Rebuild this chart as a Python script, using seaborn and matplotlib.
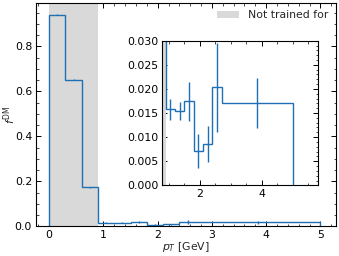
import numpy as np
import pandas as pd
import seaborn as sns
import matplotlib.pyplot as plt
from matplotlib.ticker import AutoMinorLocator

# bin edges in pT [GeV] and fraction per bin
edges = [0.0, 0.3, 0.6, 0.9, 1.2, 1.5, 1.8, 2.1, 2.4, 2.7, 5.0]
f_dm = [0.942, 0.652, 0.173, 0.0158, 0.0154, 0.0174, 0.0071, 0.0086, 0.0203, 0.0171]
f_err = [0.003, 0.003, 0.002, 0.0022, 0.0019, 0.0040, 0.0035, 0.0038, 0.0092, 0.0052]
untrained = (0.0, 0.9)

centers = [(a + b) / 2 for a, b in zip(edges[:-1], edges[1:])]
df = pd.DataFrame({"pt": centers, "f": f_dm, "err": f_err})

sns.set_theme(style="ticks")
plt.rcParams.update({
    "font.family": ["DejaVu Sans"],
    "font.size": 7.8,
    "xtick.direction": "in", "ytick.direction": "in",
    "xtick.top": True, "ytick.right": True,
    "xtick.minor.visible": True, "ytick.minor.visible": True,
    "xtick.labelsize": 7.8, "ytick.labelsize": 7.8,
    "xtick.major.size": 3.5, "ytick.major.size": 3.5,
    "xtick.minor.size": 1.8, "ytick.minor.size": 1.8,
    "xtick.major.width": 0.7, "ytick.major.width": 0.7,
    "xtick.minor.width": 0.5, "ytick.minor.width": 0.5,
    "xtick.major.pad": 2.5, "ytick.major.pad": 2.5,
    "axes.linewidth": 0.8,
    "axes.edgecolor": "black",
    "xtick.color": "black", "ytick.color": "black",
})
col = "#1f6fb4"

fig = plt.figure(figsize=(3.39, 2.56), dpi=100)
ax = fig.add_axes([0.105, 0.116, 0.885, 0.873])


def draw(a):
    a.axvspan(*untrained, color="#d9d9d9", lw=0, label="Not trained for")
    a.stairs(df["f"], edges, baseline=0, color=col, lw=1.0)
    a.errorbar(df["pt"], df["f"], yerr=df["err"], fmt="none", ecolor=col, elinewidth=1.0)


draw(ax)
ax.set_xlim(-0.25, 5.28)
ax.set_ylim(0, 0.994)
ax.set_xlabel(r"$p_T$ [GeV]", fontsize=7.8, labelpad=0)
ax.set_ylabel(r"$f^{\rm DM}$", fontsize=7.8)
ax.yaxis.set_label_coords(-0.058, 0.5)
ax.xaxis.set_minor_locator(AutoMinorLocator())
ax.yaxis.set_minor_locator(AutoMinorLocator())
ax.tick_params(which="both", top=True, right=True)
ax.legend(loc="upper right", frameon=False, fontsize=7.8, handlelength=2.0,
          borderaxespad=0.3)

ins = fig.add_axes([0.477, 0.276, 0.460, 0.565])
draw(ins)
ins.set_xlim(0.77, 5.8)
ins.set_ylim(0, 0.03)
ins.set_yticks([0, 0.005, 0.01, 0.015, 0.02, 0.025, 0.03])
ins.set_yticklabels(["0.000", "0.005", "0.010", "0.015", "0.020", "0.025", "0.030"])
ins.set_xticks([2, 4])
ins.xaxis.set_minor_locator(AutoMinorLocator())
ins.yaxis.set_minor_locator(AutoMinorLocator())
ins.tick_params(which="both", top=True, right=True)

fig.savefig("out.png", dpi=100)
